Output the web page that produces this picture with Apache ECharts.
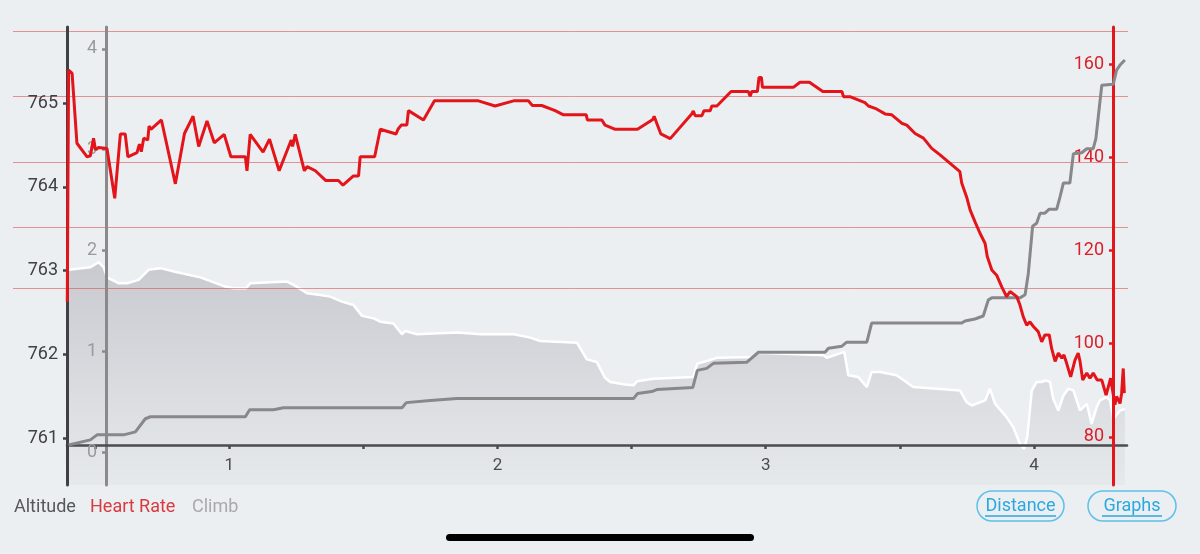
<!DOCTYPE html>
<html><head><meta charset="utf-8">
<script src="https://cdn.jsdelivr.net/npm/echarts@6/dist/echarts.min.js"></script>
<style>html,body{margin:0;padding:0;background:#ebeff2;}#c{width:1200px;height:554px;}</style>
</head><body><div id="c"></div>
<script>
// ---- Data (distance in km) ----
const hrDist = [0.396,0.401,0.414,0.432,0.470,0.482,0.494,0.501,0.513,0.544,0.573,0.594,0.612,0.622,0.656,0.665,0.672,0.681,0.696,0.701,0.708,0.747,0.799,0.833,0.865,0.886,0.917,0.944,0.981,1.006,1.060,1.066,1.078,1.126,1.150,1.186,1.231,1.236,1.246,1.280,1.290,1.321,1.360,1.407,1.424,1.463,1.482,1.488,1.542,1.563,1.622,1.629,1.641,1.662,1.668,1.724,1.765,1.929,1.991,2.060,2.115,2.130,2.165,2.215,2.246,2.331,2.335,2.389,2.401,2.439,2.522,2.579,2.584,2.609,2.644,2.724,2.730,2.737,2.762,2.770,2.793,2.799,2.818,2.871,2.935,2.942,2.948,2.969,2.975,2.984,2.988,3.103,3.128,3.163,3.213,3.284,3.290,3.314,3.370,3.383,3.408,3.414,3.445,3.470,3.507,3.526,3.557,3.588,3.619,3.650,3.681,3.724,3.731,3.749,3.762,3.780,3.799,3.818,3.826,3.843,3.861,3.880,3.898,3.911,3.936,3.948,3.960,3.973,3.985,3.998,4.016,4.029,4.041,4.057,4.066,4.079,4.091,4.104,4.112,4.122,4.137,4.153,4.165,4.172,4.182,4.197,4.209,4.221,4.236,4.253,4.269,4.286,4.302,4.308,4.321,4.327,4.333,4.337];
const hrVals = [109,158.7,158,143,140.1,140.3,144.1,141.6,142.1,141.9,131.2,145,145,140.1,141,142.8,141.2,144.1,143.7,146.7,146,148,134.3,145.1,148.8,142.3,147.8,143.1,144.9,140.1,140.1,137.1,144.9,141.1,143.9,137.1,143.7,142.3,144.9,137.1,138,137.1,135,135,134,136,136,140.1,140.1,146,145,146,146.9,146.9,150,148,152.1,152.1,151,152.1,152.1,151.1,151.1,150,149.1,149.1,148,148,146.9,146,146,148.1,148.8,145,144,149.3,149.9,148.9,148.9,150,150,151,151,154.1,154.1,153.1,154.1,154.1,157.1,157.1,155,155,156.1,156.1,154.1,154.1,153,153,151.7,151,150.5,150.1,149.3,149.1,147.3,146.9,145.1,144.1,141.9,140.5,139,136.9,134.4,131.5,128.7,126.2,123.7,121.5,118.7,115.8,114.7,112.2,110.1,111.2,110.1,108.3,105.8,104,104.7,103.7,102.6,100.4,101.9,101.9,99,96.2,98,96.9,97.6,95.8,92.9,96.5,98,96.2,92.2,93.7,92.6,93.7,92.2,92.2,89,92.6,86.9,88.7,87.2,89.4,94.7,89.4];

const climbDist = [0.401,0.482,0.507,0.606,0.650,0.687,0.706,1.060,1.076,1.165,1.202,1.644,1.660,1.749,1.849,2.507,2.522,2.575,2.594,2.728,2.745,2.780,2.805,2.929,2.973,3.221,3.234,3.284,3.302,3.377,3.395,3.731,3.743,3.780,3.811,3.830,3.843,3.948,3.967,3.979,3.995,4.010,4.023,4.041,4.057,4.085,4.097,4.110,4.134,4.147,4.178,4.197,4.221,4.231,4.240,4.253,4.296,4.308,4.321,4.339];
const climbVals = [0.07,0.12,0.17,0.17,0.20,0.33,0.35,0.35,0.42,0.42,0.44,0.44,0.49,0.51,0.53,0.53,0.58,0.60,0.62,0.64,0.81,0.83,0.88,0.89,0.99,0.99,1.03,1.05,1.09,1.09,1.28,1.28,1.30,1.32,1.35,1.51,1.53,1.53,1.56,1.77,2.24,2.27,2.37,2.37,2.41,2.41,2.53,2.67,2.67,2.96,2.97,3.01,3.01,3.11,3.33,3.64,3.65,3.79,3.84,3.89];

const altDist = [0.401,0.482,0.513,0.532,0.544,0.587,0.619,0.662,0.699,0.743,0.805,0.892,0.985,1.016,1.063,1.078,1.215,1.240,1.290,1.339,1.376,1.420,1.463,1.495,1.538,1.563,1.612,1.644,1.656,1.700,1.849,1.935,2.060,2.122,2.159,2.296,2.333,2.370,2.401,2.420,2.476,2.507,2.520,2.581,2.730,2.745,2.780,2.818,2.954,2.973,3.215,3.228,3.293,3.308,3.345,3.377,3.395,3.426,3.488,3.550,3.724,3.749,3.768,3.818,3.836,3.855,3.898,3.923,3.948,3.963,3.975,3.992,4.010,4.029,4.045,4.060,4.072,4.091,4.110,4.128,4.147,4.172,4.197,4.215,4.234,4.246,4.271,4.284,4.296,4.321,4.339];
const altVals = [763.01,763.04,763.10,763.04,762.92,762.85,762.85,762.89,763.01,763.03,762.98,762.92,762.81,762.79,762.79,762.85,762.87,762.83,762.73,762.71,762.69,762.63,762.59,762.46,762.43,762.39,762.37,762.24,762.28,762.24,762.26,762.24,762.24,762.20,762.16,762.14,761.94,761.91,761.72,761.67,761.64,761.63,761.68,761.71,761.73,761.89,761.92,761.96,761.97,762.02,761.99,761.96,762.03,761.75,761.73,761.61,761.79,761.79,761.75,761.61,761.57,761.43,761.39,761.45,761.59,761.41,761.25,761.13,760.93,760.87,761.01,761.57,761.67,761.67,761.69,761.67,761.47,761.33,761.51,761.59,761.57,761.33,761.41,761.17,761.37,761.45,761.49,761.45,761.23,761.33,761.35];

const hrZoneLines = [112,125,139,153,167];
const xTicks = [0.5,1,1.5,2,2.5,3,3.5,4];
const xLabels = [1,2,3,4];
const altTicks = [761,762,763,764,765];
const climbTicks = [0,1,2,3,4];
const hrTicks = [80,100,120,140,160];
const legendNames = ['Altitude','Heart Rate','Climb'];
const buttons = ['Distance','Graphs'];

const zip = (a,b) => a.map((v,i)=>[v,b[i]]);
const X_MIN = 0.395, X_MAX = 4.347;
const FONT = 'Roboto, sans-serif';

const chart = echarts.init(document.getElementById('c'));
chart.setOption({
  backgroundColor: '#ebeff2',
  animation: false,
  grid: [
    {left: 67, right: 73, top: 27, bottom: 69},
    {left: 67, right: 73, top: 27, bottom: 109},
    {left: 13, right: 72, top: 27, bottom: 69}
  ],
  xAxis: [
    {type:'value', gridIndex:0, min:X_MIN, max:X_MAX, show:false},
    {type:'value', gridIndex:1, min:X_MIN, max:X_MAX, position:'bottom', z:5,
     axisLine:{show:true, onZero:false, lineStyle:{color:'#4a4c50', width:2.5}},
     axisTick:{show:true, customValues:xTicks, length:4, lineStyle:{color:'#4a4c50', width:2.5}},
     axisLabel:{customValues:xLabels, color:'#4a4c50', fontSize:17, fontFamily:FONT, margin:12},
     splitLine:{show:false}},
    {type:'value', gridIndex:2, min:0, max:1, show:false}
  ],
  yAxis: [
    {type:'value', gridIndex:0, position:'left', offset:0, min:760.44, max:765.91, z:6,
     axisLine:{show:true, lineStyle:{color:'#3e4045', width:3}},
     axisTick:{show:true, customValues:altTicks, length:4, lineStyle:{color:'#3e4045', width:2.5}},
     axisLabel:{customValues:altTicks, color:'#3e4045', fontSize:18, fontFamily:FONT, margin:9},
     splitLine:{show:false}},
    {type:'value', gridIndex:0, position:'left', offset:-39, min:-0.3275, max:4.218, z:5,
     axisLine:{show:true, lineStyle:{color:'#8a8a8c', width:3}},
     axisTick:{show:true, customValues:climbTicks, length:4, lineStyle:{color:'#8a8a8c', width:2.5}},
     axisLabel:{customValues:climbTicks, color:'#9a9a9c', fontSize:18, fontFamily:FONT, margin:9},
     splitLine:{show:false}},
    {type:'value', gridIndex:0, position:'right', offset:-14, min:69.7, max:167.94, z:7,
     axisLine:{show:true, lineStyle:{color:'#e3171b', width:3}},
     axisTick:{show:true, inside:true, customValues:hrTicks, length:4, lineStyle:{color:'#e3171b', width:2.5}},
     axisLabel:{inside:true, customValues:hrTicks, color:'#d9202a', fontSize:18, fontFamily:FONT, margin:9},
     splitLine:{show:false}},
    {type:'value', gridIndex:1, min:0, max:1, show:false},
    {type:'value', gridIndex:2, min:69.7, max:167.94, show:false}
  ],
  series: [
    {type:'line', name:'Zones', xAxisIndex:2, yAxisIndex:4, data:[], silent:true, z:1,
     markLine:{silent:true, symbol:['none','none'], label:{show:false},
       lineStyle:{color:'rgba(220,70,70,0.55)', width:1, type:'solid'},
       data: hrZoneLines.map(v=>({yAxis:v}))}},
    {type:'line', name:'Altitude', xAxisIndex:0, yAxisIndex:0, data:zip(altDist,altVals), z:2,
     showSymbol:false, lineStyle:{color:'#ffffff', width:2.5},
     areaStyle:{color:new echarts.graphic.LinearGradient(0,0,0,1,[{offset:0,color:'#c9cad0'},{offset:1,color:'#e6e9ec'}]), opacity:1}},
    {type:'line', name:'Climb', xAxisIndex:0, yAxisIndex:1, data:zip(climbDist,climbVals), z:8,
     showSymbol:false, lineStyle:{color:'#88888a', width:3}},
    {type:'line', name:'Heart Rate', xAxisIndex:0, yAxisIndex:2, data:zip(hrDist,hrVals), z:9,
     showSymbol:false, lineStyle:{color:'#e3151a', width:3}}
  ],
  graphic: [
    {type:'text', left:14, top:498, style:{text:legendNames[0], fill:'#55575c', font:'18px '+FONT}},
    {type:'text', left:90, top:498, style:{text:legendNames[1], fill:'#d83a40', font:'18px '+FONT}},
    {type:'text', left:192, top:498, style:{text:legendNames[2], fill:'#a8a9ac', font:'18px '+FONT}},
    {type:'rect', shape:{x:977, y:491, width:87, height:30, r:15}, style:{fill:'none', stroke:'#5dc0ea', lineWidth:1.5}},
    {type:'text', x:1020.5, y:506, style:{text:buttons[0], fill:'#2ba8e0', font:'18px '+FONT, textAlign:'center', textVerticalAlign:'middle'}},
    {type:'line', shape:{x1:985, y1:516, x2:1056, y2:516}, style:{stroke:'#2ba8e0', lineWidth:1.5}},
    {type:'rect', shape:{x:1088, y:491, width:88, height:30, r:15}, style:{fill:'none', stroke:'#5dc0ea', lineWidth:1.5}},
    {type:'text', x:1132, y:506, style:{text:buttons[1], fill:'#2ba8e0', font:'18px '+FONT, textAlign:'center', textVerticalAlign:'middle'}},
    {type:'line', shape:{x1:1102, y1:516, x2:1162, y2:516}, style:{stroke:'#2ba8e0', lineWidth:1.5}},
    {type:'rect', shape:{x:446, y:534, width:308, height:7, r:3.5}, style:{fill:'#000000'}}
  ]
});
</script></body></html>
